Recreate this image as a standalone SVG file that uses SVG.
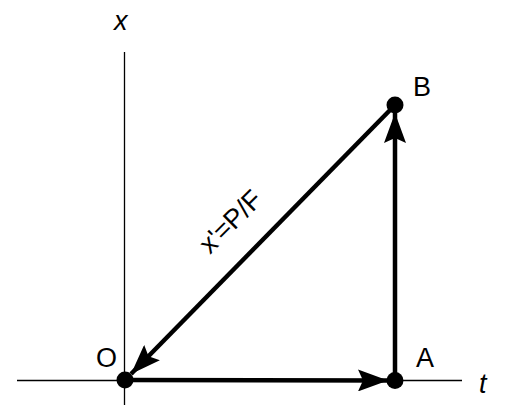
<svg xmlns="http://www.w3.org/2000/svg" width="508" height="405" viewBox="0 0 508 405">
<style>
.axis{stroke:#000;stroke-width:1.3;fill:none}
.vec{stroke:#000;stroke-width:4.5;fill:none}
.lbl{font-family:"Liberation Sans",Arial,sans-serif;font-size:27px;fill:#000}
.it{font-style:italic}
</style>
<defs>
<marker id="ah" viewBox="0 0 30 22" refX="30" refY="11" markerWidth="30" markerHeight="22" markerUnits="userSpaceOnUse" orient="auto">
<path d="M0,0 L30,11 L0,22 L5,11 Z" fill="#000"/>
</marker>
</defs>
<rect width="508" height="405" fill="#fff"/>
<g id="axes">
<line class="axis" x1="17" y1="380.5" x2="462" y2="380.5"/>
<line class="axis" x1="124.5" y1="52" x2="124.5" y2="405"/>
<text class="lbl it" x="114" y="30">x</text>
<text class="lbl it" x="479" y="393">t</text>
</g>
<g id="connectors">
<line class="vec" x1="125" y1="380" x2="388" y2="380.5" marker-end="url(#ah)"/>
<line class="vec" x1="395" y1="381" x2="395" y2="113" marker-end="url(#ah)"/>
<line class="vec" x1="395" y1="105" x2="131" y2="374" marker-end="url(#ah)"/>
<text class="lbl" font-size="28" text-anchor="middle" transform="translate(237,228) rotate(-45)">x'=P/F</text>
</g>
<g id="O">
<circle cx="125" cy="380" r="8.5"/>
<text class="lbl" x="96" y="367">O</text>
</g>
<g id="A">
<circle cx="395" cy="380.5" r="8.5"/>
<text class="lbl" x="416" y="367">A</text>
</g>
<g id="B">
<circle cx="395" cy="105" r="8.5"/>
<text class="lbl" x="413" y="96">B</text>
</g>
</svg>
